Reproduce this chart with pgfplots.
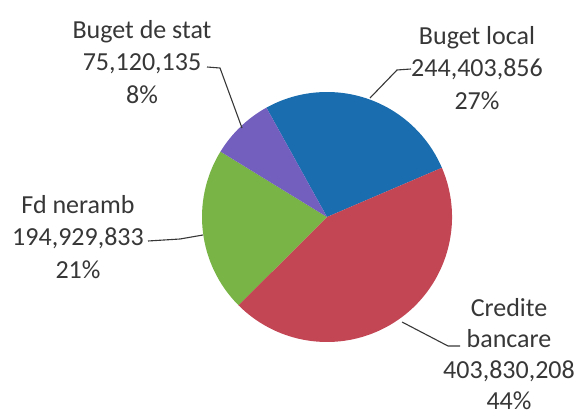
\documentclass[border=0pt]{standalone}
\usepackage{fontspec}
\setmainfont{Carlito}
\usepackage{pgfplots}
\pgfplotsset{compat=1.18}
\definecolor{cblue}{RGB}{26,110,175}
\definecolor{cred}{RGB}{195,70,85}
\definecolor{cgreen}{RGB}{120,180,70}
\definecolor{cpurple}{RGB}{115,95,190}
\definecolor{ctext}{RGB}{55,55,55}
% values
\def\vA{244403856} % Buget local
\def\vB{403830208} % Credite bancare
\def\vC{194929833} % Fd neramb
\def\vD{75120135}  % Buget de stat
\edef\tot{\fpeval{\vA+\vB+\vC+\vD}}
\def\st{119}
\edef\aA{\fpeval{\st-360*\vA/\tot}}
\edef\aB{\fpeval{\aA-360*\vB/\tot}}
\edef\aC{\fpeval{\aB-360*\vC/\tot}}
\edef\aD{\fpeval{\aC-360*\vD/\tot}}
\tikzset{lbl/.style={font=\fontsize{26bp}{32.5bp}\selectfont, text=ctext, align=center, inner sep=0pt}}
\begin{document}
\begin{tikzpicture}
\begin{axis}[hide axis, scale only axis, width=577bp, height=416bp,
  xmin=0, xmax=577, ymin=0, ymax=416, clip=false]
\fill[cblue]   (axis cs:327,199) -- ++(\st:125bp) arc[start angle=\st, end angle=\aA, radius=125bp] -- cycle;
\fill[cred]    (axis cs:327,199) -- ++(\aA:125bp) arc[start angle=\aA, end angle=\aB, radius=125bp] -- cycle;
\fill[cgreen]  (axis cs:327,199) -- ++(\aB:125bp) arc[start angle=\aB, end angle=\aC, radius=125bp] -- cycle;
\fill[cpurple] (axis cs:327,199) -- ++(\aC:125bp) arc[start angle=\aC, end angle=\aD, radius=125bp] -- cycle;
% leader lines
\draw[ctext, line width=1.1bp] (axis cs:207,349) -- (axis cs:220,348) -- (axis cs:242,288);
\draw[ctext, line width=1.1bp] (axis cs:370,318) -- (axis cs:397,346) -- (axis cs:411,347);
\draw[ctext, line width=1.1bp] (axis cs:148,175) -- (axis cs:180,177) -- (axis cs:203,181);
\draw[ctext, line width=1.1bp] (axis cs:402,94) -- (axis cs:448,70) -- (axis cs:460,70);
% labels
\node[lbl] at (axis cs:142,354) {Buget de stat\\75,120,135\\8\%};
\node[lbl] at (axis cs:477,348) {Buget local\\244,403,856\\27\%};
\node[lbl] at (axis cs:78,179) {Fd neramb\\194,929,833\\21\%};
\node[lbl, font=\fontsize{26bp}{31bp}\selectfont] at (axis cs:509,62) {Credite\\bancare\\403,830,208\\44\%};
\end{axis}
\pgfresetboundingbox
\path (0,0) rectangle (577bp,416bp);
\end{tikzpicture}
\end{document}
